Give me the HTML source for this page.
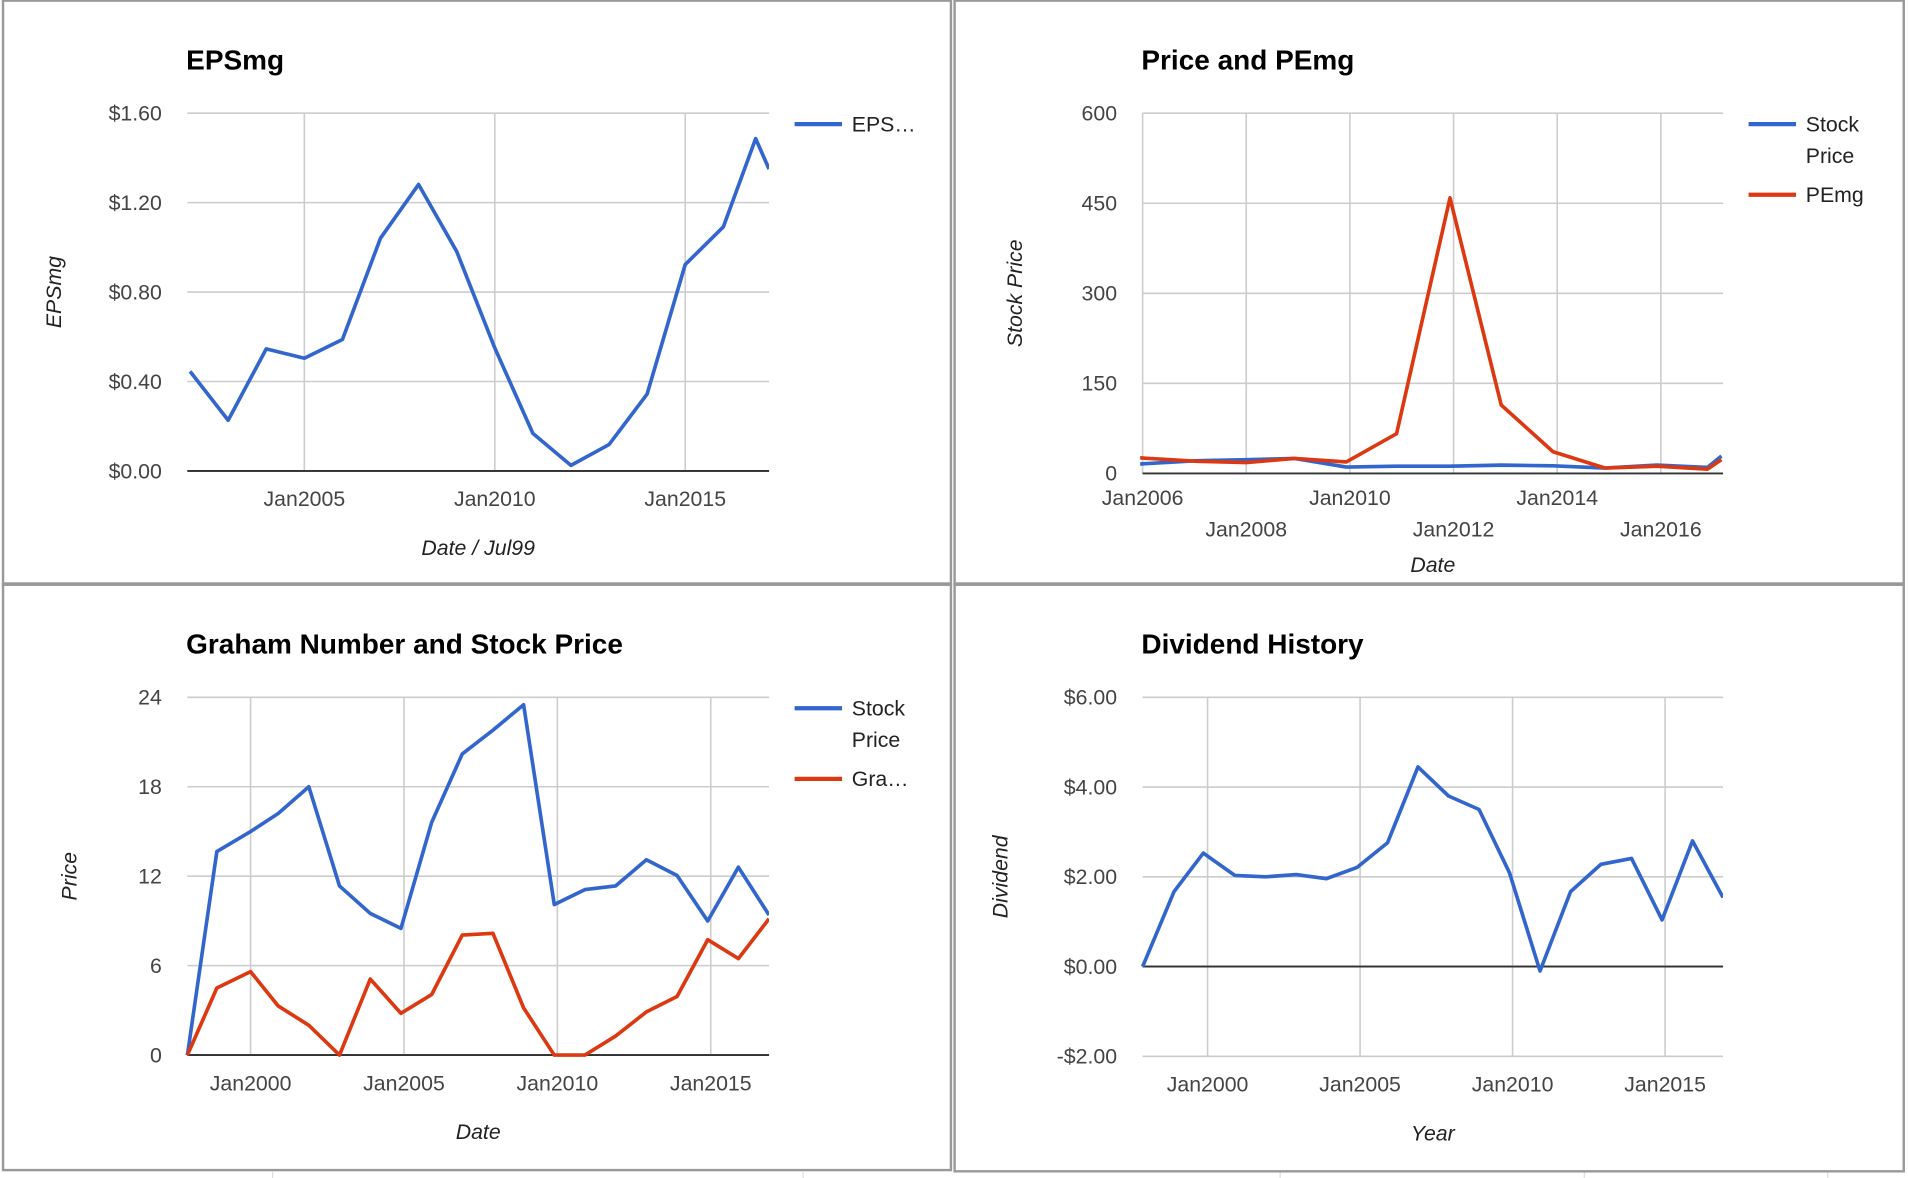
<!DOCTYPE html>
<html><head><meta charset="utf-8"><style>
html,body{margin:0;padding:0;background:#fff;}
svg{display:block;font-family:"Liberation Sans",Arial,sans-serif;}
</style></head><body>
<svg id="root" width="1908" height="1178" viewBox="0 0 1568 968" preserveAspectRatio="none" xmlns="http://www.w3.org/2000/svg">
<rect x="0" y="0" width="1568" height="968" fill="#fff"/>
<g stroke="#ddd" stroke-width="1">
<line x1="224" y1="963" x2="224" y2="968"/><line x1="660" y1="963" x2="660" y2="968"/>
<line x1="1052" y1="963" x2="1052" y2="968"/><line x1="1302" y1="963" x2="1302" y2="968"/><line x1="1502" y1="963" x2="1502" y2="968"/>
</g>
<rect x="2.5" y="0.5" width="779" height="479" fill="none" stroke="#999" stroke-width="2"/>
<rect x="784.5" y="0.5" width="780" height="479" fill="none" stroke="#999" stroke-width="2"/>
<rect x="2.5" y="480.5" width="779" height="481" fill="none" stroke="#999" stroke-width="2"/>
<rect x="784.5" y="480.5" width="780" height="482" fill="none" stroke="#999" stroke-width="2"/>
</svg>
<script>
// ---- EPSmg chart data ----
const epsDates = [2002.0,2003.0,2004.0,2005.0,2006.0,2007.0,2008.0,2009.0,2010.0,2011.0,2012.0,2013.0,2014.0,2015.0,2016.0,2016.85,2017.2];
const epsValues = [0.445,0.227,0.546,0.504,0.588,1.041,1.281,0.982,0.55,0.168,0.025,0.118,0.344,0.923,1.091,1.486,1.35];
const epsYTicks = [0,0.4,0.8,1.2,1.6];
const epsYLabels = ["$0.00","$0.40","$0.80","$1.20","$1.60"];
const epsXTicks = [2005,2010,2015];
const epsXLabels = ["Jan2005","Jan2010","Jan2015"];
// ---- Price and PEmg data ----
const pDates = [2005.94,2007.06,2008.0,2008.93,2009.93,2010.9,2011.93,2012.92,2013.92,2014.92,2015.92,2016.9,2017.17];
const pStock = [15.6,21,23,25,10.6,12,12,13.7,12.5,9,13.7,10,29];
const pPEmg = [26,20,18,25,19,66,459,114,36,9,12,7,23];
const pYTicks = [0,150,300,450,600];
const pYLabels = ["0","150","300","450","600"];
const pXTicks = [2006,2008,2010,2012,2014,2016];
const pXLabels = ["Jan2006","Jan2008","Jan2010","Jan2012","Jan2014","Jan2016"];
// ---- Graham Number data ----
const gDates = [1997.94,1998.9,2000.0,2000.9,2001.9,2002.9,2003.9,2004.9,2005.9,2006.9,2007.9,2008.9,2009.9,2010.9,2011.9,2012.9,2013.9,2014.9,2015.9,2016.9];
const gStock = [0,13.65,15,16.2,18,11.35,9.5,8.5,15.6,20.2,21.8,23.5,10.1,11.1,11.35,13.1,12.05,9.0,12.6,9.4];
const gGraham = [0,4.5,5.6,3.3,2.0,0,5.1,2.8,4.06,8.05,8.17,3.17,0,0,1.27,2.9,3.93,7.74,6.47,9.14];
const gYTicks = [0,6,12,18,24];
const gYLabels = ["0","6","12","18","24"];
const gXTicks = [2000,2005,2010,2015];
const gXLabels = ["Jan2000","Jan2005","Jan2010","Jan2015"];
// ---- Dividend data ----
const dDates = [1997.87,1998.9,1999.86,2000.9,2001.9,2002.9,2003.9,2004.9,2005.9,2006.9,2007.9,2008.9,2009.9,2010.9,2011.9,2012.9,2013.9,2014.9,2015.9,2016.9];
const dValues = [0,1.67,2.53,2.03,2.0,2.05,1.96,2.21,2.76,4.45,3.8,3.5,2.09,-0.1,1.67,2.28,2.41,1.04,2.8,1.54];
const dYTicks = [-2,0,2,4,6];
const dYLabels = ["-$2.00","$0.00","$2.00","$4.00","$6.00"];
const dXTicks = [2000,2005,2010,2015];
const dXLabels = ["Jan2000","Jan2005","Jan2010","Jan2015"];

const NS = "http://www.w3.org/2000/svg";
const root = document.getElementById('root');
function mk(tag, attrs, parent, text){
  const e = document.createElementNS(NS, tag);
  for (const k in attrs) e.setAttribute(k, attrs[k]);
  if (text !== undefined) e.textContent = text;
  (parent||root).appendChild(e);
  return e;
}
function chart(cfg){
  const g = mk('g', {});
  
  
  const sx = v => cfg.x0 + (v - cfg.xmin) / (cfg.xmax - cfg.xmin) * (cfg.x1 - cfg.x0);
  const sy = v => cfg.y1 - (v - cfg.ymin) / (cfg.ymax - cfg.ymin) * (cfg.y1 - cfg.y0);
  const t = mk('text', {x: cfg.x0 - 1, y: cfg.titleY, 'font-size': 23, 'font-weight': 'bold', fill: '#000'}, g, cfg.title);
  
  
  cfg.yTicks.forEach((v, i) => {
    const y = sy(v);
    const gl = mk('line', {x1: cfg.x0, x2: cfg.x1, y1: y, y2: y, stroke: v === 0 ? '#333' : '#ccc', 'stroke-width': v === 0 ? 1.5 : 1.3}, g);
    
    
    const lb = mk('text', {x: cfg.x0 - 21, y: y + 6, 'font-size': 17.5, fill: '#444', 'text-anchor': 'end'}, g, cfg.yLabels[i]);
    
    
  });
  cfg.xTicks.forEach((v, i) => {
    const x = sx(v);
    const gl = mk('line', {x1: x, x2: x, y1: cfg.y0, y2: cfg.y1, stroke: '#ccc', 'stroke-width': 1.3}, g);
    
    
    const ly = cfg.stagger ? (i % 2 === 0 ? cfg.xLabelY : cfg.xLabelY + 26) : cfg.xLabelY;
    const lb = mk('text', {x: x, y: ly, 'font-size': 17.5, fill: '#444', 'text-anchor': 'middle'}, g, cfg.xLabels[i]);
    
    
  });
  // redraw baseline on top of vertical grid
  if (cfg.ymin < 0 || cfg.ymin === 0) {
    const bl = mk('line', {x1: cfg.x0, x2: cfg.x1, y1: sy(0), y2: sy(0), stroke: '#333', 'stroke-width': 1.5}, g);
    
    
  }
  const xt = mk('text', {x: (cfg.x0 + cfg.x1) / 2, y: cfg.xTitleY, 'font-size': 17.5, 'font-style': 'italic', fill: '#222', 'text-anchor': 'middle'}, g, cfg.xTitle);
  
  
  const yt = mk('text', {x: 0, y: 0, 'font-size': 17.5, 'font-style': 'italic', fill: '#222', 'text-anchor': 'middle', transform: 'translate(' + cfg.yTitleX + ',' + ((cfg.y0 + cfg.y1) / 2) + ') rotate(-90)'}, g, cfg.yTitle);
  
  
  const clipId = 'clip-' + cfg.name;
  const cp = mk('clipPath', {id: clipId}, g);
  mk('rect', {x: cfg.x0 - 2, y: cfg.y0 - 10, width: cfg.x1 - cfg.x0 + 2, height: cfg.y1 - cfg.y0 + 20}, cp);
  cfg.series.forEach((s, si) => {
    const pts = s.dates.map((d, i) => sx(d).toFixed(1) + ',' + sy(s.values[i]).toFixed(1)).join(' ');
    const pl = mk('polyline', {points: pts, fill: 'none', stroke: s.color, 'stroke-width': 3, 'stroke-linejoin': 'round', 'clip-path': 'url(#' + clipId + ')'}, g);
    
    
    const ly = cfg.legendY + s.legendOffset;
    const lg = mk('g', {}, g);
    
    
    mk('line', {x1: cfg.legendX, x2: cfg.legendX + 39, y1: ly, y2: ly, stroke: s.color, 'stroke-width': 3.5}, lg);
    s.label.forEach((txt, li) => {
      mk('text', {x: cfg.legendX + 47, y: ly + 6 + li * 26, 'font-size': 17.5, fill: '#222'}, lg, txt);
    });
  });
}
const BLUE = '#3366cc', RED = '#dc3912';
chart({name:'epsmg-chart', title:'EPSmg', titleY:57, x0:154, x1:632, y0:93, y1:387,
  xmin:2001.93, xmax:2017.2, ymin:0, ymax:1.6, yTicks:epsYTicks, yLabels:epsYLabels,
  xTicks:epsXTicks, xLabels:epsXLabels, xLabelY:416, xTitle:'Date / Jul99', xTitleY:456,
  yTitle:'EPSmg', yTitleX:50, legendX:653, legendY:102,
  series:[{id:'epsmg', dates:epsDates, values:epsValues, color:BLUE, label:['EPS…'], legendOffset:0}]});
chart({name:'price-pemg-chart', title:'Price and PEmg', titleY:57, x0:939, x1:1416, y0:93, y1:389,
  xmin:2006, xmax:2017.2, ymin:0, ymax:600, yTicks:pYTicks, yLabels:pYLabels,
  xTicks:pXTicks, xLabels:pXLabels, xLabelY:415, stagger:true, xTitle:'Date', xTitleY:470,
  yTitle:'Stock Price', yTitleX:840, legendX:1437, legendY:102,
  series:[{id:'stock-price', dates:pDates, values:pStock, color:BLUE, label:['Stock','Price'], legendOffset:0},
          {id:'pemg', dates:pDates, values:pPEmg, color:RED, label:['PEmg'], legendOffset:58}]});
chart({name:'graham-chart', title:'Graham Number and Stock Price', titleY:537, x0:154, x1:632, y0:573, y1:867,
  xmin:1997.94, xmax:2016.9, ymin:0, ymax:24, yTicks:gYTicks, yLabels:gYLabels,
  xTicks:gXTicks, xLabels:gXLabels, xLabelY:896, xTitle:'Date', xTitleY:936,
  yTitle:'Price', yTitleX:63, legendX:653, legendY:582,
  series:[{id:'stock-price', dates:gDates, values:gStock, color:BLUE, label:['Stock','Price'], legendOffset:0},
          {id:'graham-number', dates:gDates, values:gGraham, color:RED, label:['Gra…'], legendOffset:58}]});
chart({name:'dividend-chart', title:'Dividend History', titleY:537, x0:939, x1:1416, y0:573, y1:868,
  xmin:1997.87, xmax:2016.9, ymin:-2, ymax:6, yTicks:dYTicks, yLabels:dYLabels,
  xTicks:dXTicks, xLabels:dXLabels, xLabelY:897, xTitle:'Year', xTitleY:937,
  yTitle:'Dividend', yTitleX:828, legendX:-999, legendY:-999,
  series:[{id:'dividend', dates:dDates, values:dValues, color:BLUE, label:[], legendOffset:0}]});
</script>
</body></html>
